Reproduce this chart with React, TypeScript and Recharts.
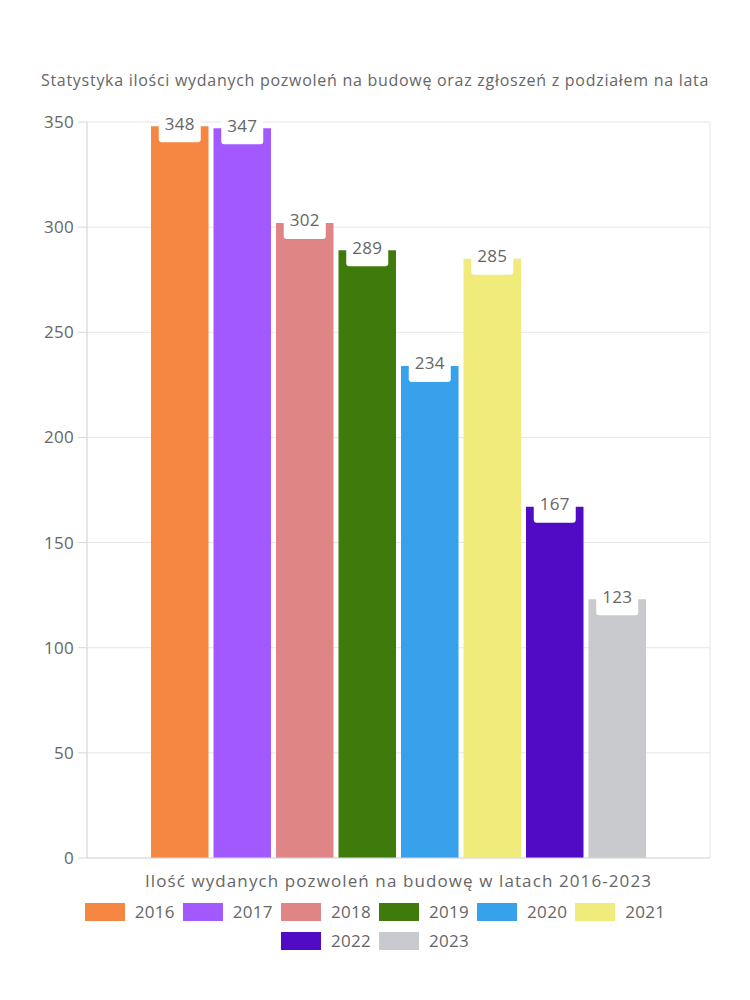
import React from 'react';
import { BarChart, Bar, XAxis, YAxis, CartesianGrid, Legend } from 'recharts';

const categories = ['Ilość wydanych pozwoleń na budowę w latach 2016-2023'];
const years = ['2016', '2017', '2018', '2019', '2020', '2021', '2022', '2023'];
const values = [348, 347, 302, 289, 234, 285, 167, 123];
const colors = ['#F58742', '#A259FF', '#E08585', '#3E7B0C', '#37A2EB', '#F0EB7A', '#520BC4', '#C9CACD'];
const yTicks = [0, 50, 100, 150, 200, 250, 300, 350];
const title = 'Statystyka ilości wydanych pozwoleń na budowę oraz zgłoszeń z podziałem na lata';

const data = categories.map((name) => {
  const row: Record<string, string | number> = { name };
  years.forEach((y, i) => {
    row[y] = values[i];
  });
  return row;
});

const FONT = '"Open Sans", sans-serif';
const TXT = '#666666';

const ValueLabel = (props: any) => {
  const { x, y, width, value } = props;
  const cx = x + width / 2;
  const w = 42;
  return (
    <g>
      <rect x={cx - w / 2} y={y - 14} width={w} height={30} rx={3} ry={3} fill="#ffffff" />
      <text x={cx} y={y - 1} textAnchor="middle" dominantBaseline="middle" fontSize={17} fill={TXT} fontFamily={FONT} letterSpacing={0.3}>
        {value}
      </text>
    </g>
  );
};

const LegendContent = () => (
  <div
    style={{
      display: 'flex',
      flexWrap: 'wrap',
      justifyContent: 'center',
      width: 620,
      margin: '0 auto',
      rowGap: 6,
      fontFamily: FONT,
    }}
  >
    {years.map((y, i) => (
      <div key={y} style={{ display: 'flex', alignItems: 'center', marginLeft: 4, marginRight: 4 }}>
        <div style={{ width: 40, height: 18, background: colors[i], marginRight: 10 }} />
        <span style={{ fontSize: 17, color: TXT, letterSpacing: 0.3 }}>{y}</span>
      </div>
    ))}
  </div>
);

export default function App() {
  return (
    <div style={{ position: 'absolute', left: 0, top: 0, width: 750, height: 1000, background: '#fff' }}>
      <div
        style={{
          position: 'absolute',
          top: 69,
          left: 0,
          width: 750,
          textAlign: 'center',
          fontFamily: FONT,
          fontSize: 16,
          color: TXT,
          letterSpacing: 0.72,
          whiteSpace: 'nowrap',
        }}
      >
        {title}
      </div>
      <BarChart
        width={750}
        height={1000}
        data={data}
        margin={{ top: 122, right: 40, left: 0, bottom: 48 }}
        barSize={57.5}
        barGap={5}
      >
        <CartesianGrid
          stroke="#e6e6e6"
          verticalCoordinatesGenerator={(p: any) => [p.offset.left, p.offset.left + p.offset.width]}
        />
        <XAxis
          dataKey="name"
          tickLine={false}
          axisLine={{ stroke: '#d9d9d9' }}
          tickMargin={11}
          height={38}
          tick={{ fontSize: 17, fill: TXT, fontFamily: FONT, letterSpacing: 1.1 }}
        />
        <YAxis
          domain={[0, 350]}
          ticks={yTicks}
          width={87}
          tickSize={9}
          tickMargin={4}
          axisLine={{ stroke: '#d9d9d9' }}
          tickLine={{ stroke: '#d9d9d9' }}
          tick={{ fontSize: 17, fill: TXT, fontFamily: FONT, letterSpacing: 0.3 }}
        />
        <Legend
          verticalAlign="bottom"
          content={<LegendContent />}
          wrapperStyle={{ paddingTop: 4, left: 0, width: 750 }}
        />
        {years.map((y, i) => (
          <Bar key={y} dataKey={y} fill={colors[i]} isAnimationActive={false} label={<ValueLabel />} />
        ))}
      </BarChart>
    </div>
  );
}
